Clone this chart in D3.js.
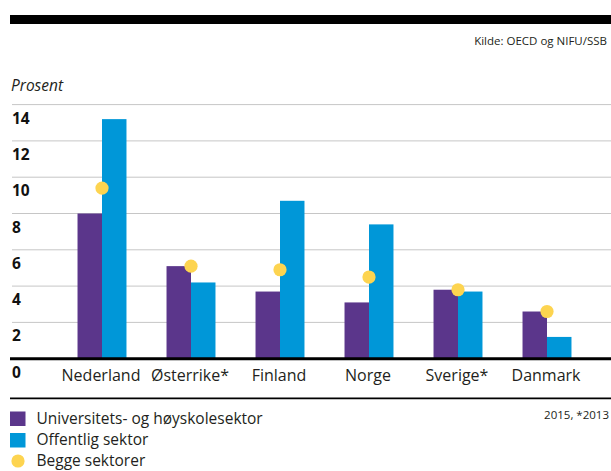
<!DOCTYPE html>
<html>
<head>
<meta charset="utf-8">
<script src="https://cdn.jsdelivr.net/npm/d3@7"></script>
<style>
  html, body { margin: 0; padding: 0; background: #fff; }
  svg { display: block; }
  text { font-family: "Open Sans", "Noto Sans", sans-serif; fill: #231f20; }
</style>
</head>
<body>
<svg id="chart" width="611" height="471"></svg>
<script>
const categories = ["Nederland", "Østerrike*", "Finland", "Norge", "Sverige*", "Danmark"];
const universitySector = [8.0, 5.1, 3.7, 3.1, 3.8, 2.6];
const publicSector = [13.2, 4.2, 8.7, 7.4, 3.7, 1.2];
const bothSectors = [9.4, 5.1, 4.9, 4.5, 3.8, 2.6];
const yTicks = [0, 2, 4, 6, 8, 10, 12, 14];
const seriesNames = ["Universitets- og høyskolesektor", "Offentlig sektor", "Begge sektorer"];
const sourceText = "Kilde: OECD og NIFU/SSB";
const unitText = "Prosent";
const noteText = "2015, *2013";

const colors = { uni: "#5b368b", pub: "#0097d8", both: "#fdd450" };

const svg = d3.select("#chart");

const y = d3.scaleLinear().domain([0, 14]).range([358.7, 104.6]);
const x = d3.scaleBand().domain(categories).range([57.5, 591.5]).paddingInner(0.45).paddingOuter(0.225);
const xs = d3.scaleBand().domain(["uni", "pub"]).range([0, x.bandwidth()]);

// top black bar
svg.append("rect").attr("x", 10).attr("y", 15).attr("width", 601).attr("height", 9).attr("fill", "#000");

svg.append("text").attr("x", 607).attr("y", 45).attr("text-anchor", "end")
  .style("font-size", "11.5px").text(sourceText);

svg.append("text").attr("x", 11).attr("y", 90.5)
  .style("font-size", "15.5px").style("font-style", "italic").text(unitText);

// gridlines
svg.append("g").selectAll("line").data(yTicks.filter(d => d > 0)).join("line")
  .attr("x1", 12).attr("x2", 611)
  .attr("y1", d => y(d)).attr("y2", d => y(d))
  .attr("stroke", "#c6c6c6").attr("stroke-width", 1);

// y tick labels (below gridlines)
svg.append("g").selectAll("text").data(yTicks).join("text")
  .attr("x", 12).attr("y", d => y(d) + 19)
  .style("font-size", "15.5px").style("font-weight", "bold").style("fill", "#111")
  .text(d => d);

// bars
const groups = svg.append("g").selectAll("g").data(categories).join("g")
  .attr("transform", d => `translate(${x(d)},0)`);

groups.append("rect")
  .attr("x", xs("uni")).attr("width", xs.bandwidth())
  .attr("y", (d, i) => y(universitySector[i]))
  .attr("height", (d, i) => y(0) - y(universitySector[i]))
  .attr("fill", colors.uni);

groups.append("rect")
  .attr("x", xs("pub")).attr("width", xs.bandwidth())
  .attr("y", (d, i) => y(publicSector[i]))
  .attr("height", (d, i) => y(0) - y(publicSector[i]))
  .attr("fill", colors.pub);

// baseline
svg.append("line").attr("x1", 10).attr("x2", 611).attr("y1", y(0)).attr("y2", y(0))
  .attr("stroke", "#000").attr("stroke-width", 3);

// dots
svg.append("g").selectAll("circle").data(categories).join("circle")
  .attr("cx", d => x(d) + x.bandwidth() / 2)
  .attr("cy", (d, i) => y(bothSectors[i]))
  .attr("r", 6.6)
  .attr("fill", colors.both);

// category labels
svg.append("g").selectAll("text").data(categories).join("text")
  .attr("x", d => x(d) + x.bandwidth() / 2 - 1)
  .attr("y", 380.7)
  .attr("text-anchor", "middle")
  .style("font-size", "16px")
  .text(d => d);

// bottom line
svg.append("line").attr("x1", 10).attr("x2", 611).attr("y1", 398.3).attr("y2", 398.3)
  .attr("stroke", "#000").attr("stroke-width", 1.8);

// legend
svg.append("rect").attr("x", 10).attr("y", 411.5).attr("width", 15.5).attr("height", 14.5).attr("fill", colors.uni);
svg.append("rect").attr("x", 10).attr("y", 433).attr("width", 15.5).attr("height", 14.5).attr("fill", colors.pub);
svg.append("circle").attr("cx", 18).attr("cy", 461).attr("r", 6.6).attr("fill", colors.both);

const legendY = [423.8, 445.1, 466.3];
svg.append("g").selectAll("text").data(seriesNames).join("text")
  .attr("x", 36.5).attr("y", (d, i) => legendY[i])
  .style("font-size", "15.5px")
  .text(d => d);

svg.append("text").attr("x", 609).attr("y", 419).attr("text-anchor", "end")
  .style("font-size", "11.5px").text(noteText);
</script>
</body>
</html>
